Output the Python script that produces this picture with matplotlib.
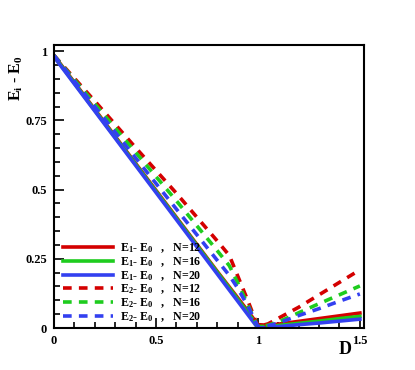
import matplotlib
matplotlib.use("Agg")
import matplotlib.pyplot as plt
from matplotlib.ticker import MultipleLocator

plt.rcParams['font.family'] = ['Liberation Serif', 'DejaVu Serif']
plt.rcParams['font.weight'] = 'bold'
plt.rcParams['mathtext.fontset'] = 'custom'
plt.rcParams['mathtext.rm'] = 'Liberation Serif:bold'
plt.rcParams['mathtext.it'] = 'Liberation Serif:bold'
plt.rcParams['mathtext.bf'] = 'Liberation Serif:bold'

D = [0.0, 0.2, 0.4, 0.6, 0.8, 0.86, 0.9, 0.95, 1.0, 1.05, 1.1, 1.2, 1.3, 1.4, 1.5]

gap1_N12 = [0.985, 0.79, 0.595, 0.40, 0.205, 0.148, 0.11, 0.062, 0.012, 0.010, 0.014, 0.024, 0.034, 0.044, 0.054]
gap1_N16 = [0.983, 0.787, 0.592, 0.397, 0.202, 0.144, 0.105, 0.056, 0.006, 0.005, 0.009, 0.017, 0.025, 0.034, 0.042]
gap1_N20 = [0.980, 0.784, 0.588, 0.392, 0.196, 0.137, 0.098, 0.049, 0.000, 0.002, 0.005, 0.012, 0.018, 0.025, 0.032]

gap2_N12 = [0.985, 0.82, 0.652, 0.487, 0.315, 0.262, 0.19, 0.10, 0.005, 0.015, 0.035, 0.075, 0.12, 0.165, 0.21]
gap2_N16 = [0.985, 0.81, 0.635, 0.46, 0.28, 0.225, 0.165, 0.085, 0.003, 0.010, 0.022, 0.055, 0.088, 0.12, 0.152]
gap2_N20 = [0.985, 0.80, 0.615, 0.43, 0.245, 0.19, 0.145, 0.08, 0.005, 0.008, 0.018, 0.045, 0.07, 0.097, 0.123]

labels = [r"$\mathregular{E_1}$- $\mathregular{E_0}$   ,   N=12",
          r"$\mathregular{E_1}$- $\mathregular{E_0}$   ,   N=16",
          r"$\mathregular{E_1}$- $\mathregular{E_0}$   ,   N=20",
          r"$\mathregular{E_2}$- $\mathregular{E_0}$   ,   N=12",
          r"$\mathregular{E_2}$- $\mathregular{E_0}$   ,   N=16",
          r"$\mathregular{E_2}$- $\mathregular{E_0}$   ,   N=20"]

red, green, blue = '#d40000', '#1ecc1e', '#3340f0'

fig = plt.figure(figsize=(4.15, 3.70), dpi=100)
ax = fig.add_axes([0.130, 0.1135, 0.747, 0.7645])

lw = 2.6
dash = (0, (2.4, 2.0))
ax.plot(D, gap1_N12, color=red, lw=lw, label=labels[0])
ax.plot(D, gap1_N16, color=green, lw=lw, label=labels[1])
ax.plot(D, gap1_N20, color=blue, lw=lw, label=labels[2])
ax.plot(D, gap2_N12, color=red, lw=lw, ls=dash, label=labels[3])
ax.plot(D, gap2_N16, color=green, lw=lw, ls=dash, label=labels[4])
ax.plot(D, gap2_N20, color=blue, lw=lw, ls=dash, label=labels[5])

ax.set_xlim(0, 1.52)
ax.set_ylim(0, 1.022)
ax.xaxis.set_minor_locator(MultipleLocator(0.1))
ax.yaxis.set_minor_locator(MultipleLocator(0.05))
ax.set_xticks([0, 0.5, 1, 1.5])
ax.set_xticklabels(['0', '0.5', '1', '1.5'])
ax.set_yticks([0, 0.25, 0.5, 0.75, 1])
ax.set_yticklabels(['0', '0.25', '0.5', '0.75', '1'])
ax.tick_params(which='both', direction='in', top=False, right=False, labelsize=9, width=1.2)
ax.tick_params(which='major', length=7, pad=5)
ax.tick_params(which='minor', length=4)
for lab in ax.get_xticklabels() + ax.get_yticklabels():
    lab.set_fontweight('bold')
for s in ax.spines.values():
    s.set_linewidth(1.5)

fig.text(16/415, 1-78/370, r"$\mathregular{E_i}$ - $\mathregular{E_0}$", rotation=90,
         ha='center', va='center', fontsize=11.5, fontweight='bold')
fig.text(345/415, 1-349/370, "D", ha='center', va='center', fontsize=13, fontweight='bold')

leg = ax.legend(loc='lower left', bbox_to_anchor=(0.015, 0.0), frameon=False,
                fontsize=8.6, handlelength=4.2, labelspacing=0.0, handletextpad=0.6,
                borderaxespad=0.15, borderpad=0.2)
for t in leg.get_texts():
    t.set_fontweight('bold')

fig.savefig("out.png", dpi=100)
